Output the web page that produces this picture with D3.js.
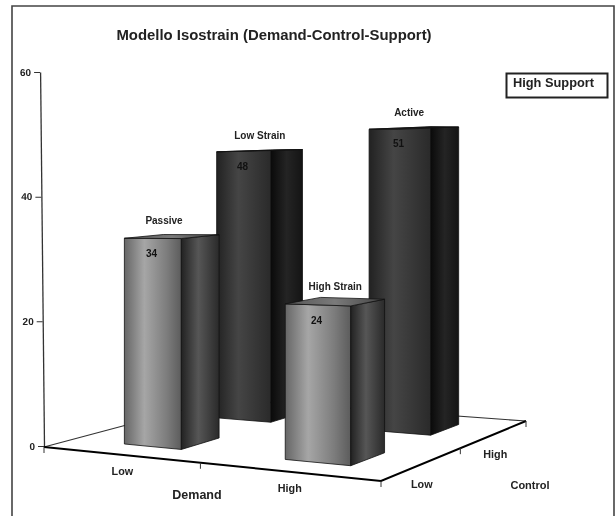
<!DOCTYPE html>
<html lang="en">

<head>
    <meta charset="UTF-8">
    <title>Modello Isostrain</title>
    <script src="https://d3js.org/d3.v7.min.js"></script>
    <style>
        body { margin: 0; background: #fff; }
        svg { display: block; filter: blur(0.6px); }
        text { font-family: "Liberation Sans", Arial, sans-serif; font-weight: bold; fill: #222; }
    </style>
</head>

<body>
    <div id="content"></div>
</body>
<script>
const demandLevels = ["Low", "High"];
const controlLevels = ["Low", "High"];
const yTicks = [0, 20, 40, 60];

const quadrantNames = ["Low Strain", "Active", "Passive", "High Strain"];
const quadrantDemand = ["Low", "High", "Low", "High"];
const quadrantControl = ["High", "High", "Low", "Low"];
const quadrantValues = [48, 51, 34, 24];

const width = 616, height = 516;

const svg = d3.select("#content")
    .append("svg")
    .attr("width", width)
    .attr("height", height);

const defs = svg.append("defs");

function gradient(id, stops) {
    const g = defs.append("linearGradient").attr("id", id);
    stops.forEach(s => g.append("stop").attr("offset", s[0]).attr("stop-color", s[1]));
}
gradient("frontLight", [[0, "#666"], [0.35, "#a6a6a6"], [0.75, "#7c7c7c"], [1, "#5c5c5c"]]);
gradient("sideLight", [[0, "#222"], [0.45, "#565656"], [1, "#2a2a2a"]]);
gradient("topLight", [[0, "#555"], [0.5, "#7a7a7a"], [1, "#444"]]);
gradient("frontDark", [[0, "#222"], [0.4, "#454545"], [1, "#2a2a2a"]]);
gradient("sideDark", [[0, "#0a0a0a"], [0.5, "#242424"], [1, "#141414"]]);
gradient("topDark", [[0, "#222"], [1, "#111"]]);

// outer frame, runs off the bottom of the page
svg.append("path")
    .attr("d", "M12,516V6H614V516")
    .attr("fill", "none")
    .attr("stroke", "#444")
    .attr("stroke-width", 1.6);

svg.append("text")
    .attr("x", 274)
    .attr("y", 40)
    .attr("text-anchor", "middle")
    .attr("font-size", 14.9)
    .text("Modello Isostrain (Demand-Control-Support)");

// floor corners on screen: front left, front right, back right, back left
const A = [44, 447], B = [381, 481], C = [526, 421], D = [224, 399];

// perspective mapping from the unit floor square to those corners
const sx = A[0] - B[0] + C[0] - D[0], sy = A[1] - B[1] + C[1] - D[1];
const dx1 = B[0] - C[0], dy1 = B[1] - C[1], dx2 = D[0] - C[0], dy2 = D[1] - C[1];
const det = dx1 * dy2 - dx2 * dy1;
const pg = (sx * dy2 - dx2 * sy) / det, ph = (dx1 * sy - sx * dy1) / det;

const y = d3.scaleLinear().domain([0, 60]).range([0, -374]);
// the bars come out a little shorter than the wall axis
const barHeight = d3.scaleLinear().domain([0, 60]).range([0, -364]);

function project(u, v, val) {
    const w = 1 + pg * u + ph * v;
    const px = ((B[0] * (1 + pg) - A[0]) * u + (D[0] * (1 + ph) - A[0]) * v + A[0]) / w;
    const py = ((B[1] * (1 + pg) - A[1]) * u + (D[1] * (1 + ph) - A[1]) * v + A[1]) / w;
    return [px, py + barHeight(val || 0) / w];
}

const demandScale = d3.scaleBand().domain(demandLevels).range([0.008, 1.018]).paddingInner(0.63).paddingOuter(0.33);
const controlScale = d3.scaleBand().domain(controlLevels).range([0, 1]).paddingInner(0.6).paddingOuter(0.28);

// y axis, leaning slightly to the left as it goes up
const yAxis = svg.append("g")
    .attr("transform", "translate(44,446) skewX(0.6)")
    .call(d3.axisLeft(y).tickValues(yTicks).tickSize(6).tickSizeOuter(0).tickPadding(3));
yAxis.select(".domain").attr("stroke", "#333").attr("stroke-width", 1.3);
yAxis.selectAll(".tick line").attr("stroke", "#333");
yAxis.selectAll("text").attr("font-size", 10).attr("font-family", null);

const line = d3.line();

// back edges of the floor
svg.append("path")
    .attr("d", line([A, D, C]))
    .attr("fill", "none")
    .attr("stroke", "#333")
    .attr("stroke-width", 1.2);

// front edges of the floor
svg.append("path")
    .attr("d", line([A, B, C]))
    .attr("fill", "none")
    .attr("stroke", "#000")
    .attr("stroke-width", 2);

// floor ticks
const floorTicks = [[0, 0], [0.5, 0], [1, 0], [1, 0.5], [1, 1]].map(t => project(t[0], t[1]));
svg.selectAll("line.floorTick")
    .data(floorTicks)
    .enter().append("line")
    .attr("class", "floorTick")
    .attr("x1", d => d[0]).attr("x2", d => d[0])
    .attr("y1", d => d[1]).attr("y2", d => d[1] + 6)
    .attr("stroke", "#333");

// category labels
svg.selectAll("text.demandLabel")
    .data(demandLevels)
    .enter().append("text")
    .attr("class", "demandLabel")
    .attr("x", d => project(demandScale(d) + demandScale.bandwidth() / 2 - 0.005, 0)[0])
    .attr("y", d => project(demandScale(d) + demandScale.bandwidth() / 2 - 0.005, 0)[1] + 20)
    .attr("text-anchor", "middle")
    .attr("font-size", 10.8)
    .text(d => d);

svg.selectAll("text.controlLabel")
    .data(controlLevels)
    .enter().append("text")
    .attr("class", "controlLabel")
    .attr("x", d => project(1, controlScale(d) + controlScale.bandwidth() / 2)[0])
    .attr("y", d => project(1, controlScale(d) + controlScale.bandwidth() / 2)[1] + 24)
    .attr("text-anchor", "middle")
    .attr("font-size", 10.8)
    .text(d => d);

svg.append("text")
    .attr("x", 197)
    .attr("y", 499)
    .attr("text-anchor", "middle")
    .attr("font-size", 12.5)
    .text("Demand");

svg.append("text")
    .attr("x", 530)
    .attr("y", 489)
    .attr("text-anchor", "middle")
    .attr("font-size", 11)
    .text("Control");

// hand placed shift of the name labels over the bars
const nameShift = { "Low Strain": 0, "Active": -5, "Passive": -8, "High Strain": 0 };

// bars, back row first
quadrantValues.forEach((val, i) => {
    const u0 = demandScale(quadrantDemand[i]), u1 = u0 + demandScale.bandwidth();
    const v0 = controlScale(quadrantControl[i]), v1 = v0 + controlScale.bandwidth();
    const tone = quadrantControl[i] === "Low" ? "Light" : "Dark";

    const faces = [
        { fill: "front" + tone, pts: [project(u0, v0), project(u1, v0), project(u1, v0, val), project(u0, v0, val)] },
        { fill: "side" + tone, pts: [project(u1, v0), project(u1, v1), project(u1, v1, val), project(u1, v0, val)] },
        { fill: "top" + tone, pts: [project(u0, v0, val), project(u1, v0, val), project(u1, v1, val), project(u0, v1, val)] }
    ];

    const bar = svg.append("g").attr("class", "bar");
    bar.selectAll("path")
        .data(faces)
        .enter().append("path")
        .attr("d", d => line(d.pts) + "Z")
        .attr("fill", d => "url(#" + d.fill + ")")
        .attr("stroke", "#111")
        .attr("stroke-width", 0.8)
        .attr("stroke-linejoin", "round");

    const frontTop = project((u0 + u1) / 2, v0, val);
    bar.append("text")
        .attr("x", frontTop[0] - 1)
        .attr("y", frontTop[1] + 19)
        .attr("text-anchor", "middle")
        .attr("font-size", 10)
        .attr("style", "fill:#111")
        .text(val);

    const topMid = project((u0 + u1) / 2, (v0 + v1) / 2, val);
    bar.append("text")
        .attr("x", topMid[0] + nameShift[quadrantNames[i]])
        .attr("y", topMid[1] - 12)
        .attr("text-anchor", "middle")
        .attr("font-size", 10)
        .text(quadrantNames[i]);
});

// support level box
svg.append("rect")
    .attr("x", 506.5)
    .attr("y", 73.5)
    .attr("width", 101)
    .attr("height", 24)
    .attr("fill", "#fff")
    .attr("stroke", "#222")
    .attr("stroke-width", 2);

svg.append("text")
    .attr("x", 513)
    .attr("y", 87)
    .attr("font-size", 12.8)
    .text("High Support");
</script>

</html>
